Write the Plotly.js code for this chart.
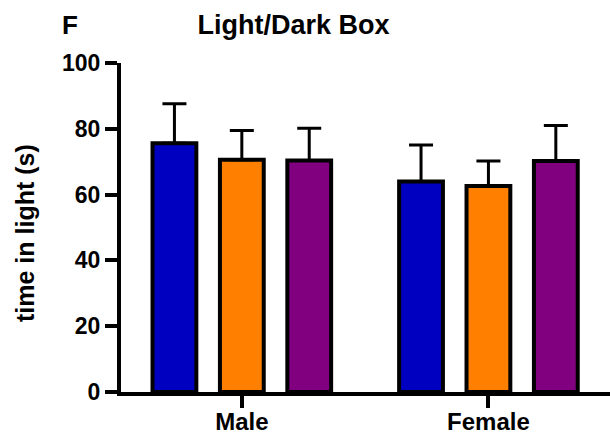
<!DOCTYPE html>
<html>
<head>
<meta charset="utf-8">
<script src="https://cdn.plot.ly/plotly-3.0.1.min.js"></script>
<style>html,body{margin:0;padding:0;background:#fff;}#chart{width:610px;height:436px;}</style>
</head>
<body>
<div id="chart"></div>
<script>
const categories = ["Male", "Female"];
const seriesNames = ["Group 1", "Group 2", "Group 3"];
const seriesColors = ["#0000C0", "#FF8000", "#800080"];
const group1 = [75.6, 64.0];
const group2 = [70.6, 62.6];
const group3 = [70.4, 70.2];
const group1Err = [12.0, 11.1];
const group2Err = [8.9, 7.6];
const group3Err = [9.8, 10.8];
const yTicks = [0, 20, 40, 60, 80, 100];

const values = [group1, group2, group3];
const errs = [group1Err, group2Err, group3Err];
const FONT = "Arial, 'Liberation Sans', sans-serif";

const traces = values.map((v, i) => ({
  type: "bar",
  name: seriesNames[i],
  x: categories,
  y: v,
  marker: { color: seriesColors[i], line: { color: "#000", width: 4 } },
  error_y: { type: "data", symmetric: false, array: errs[i], arrayminus: errs[i].map(() => 0),
             color: "#000", thickness: 3, width: 12 },
  hoverinfo: "skip"
}));

const layout = {
  width: 610, height: 436,
  margin: { l: 121, r: 0, t: 63, b: 44 },
  paper_bgcolor: "#fff", plot_bgcolor: "#fff",
  showlegend: false,
  barmode: "group",
  bargap: 0.18,
  bargroupgap: 0.35,
  font: { family: FONT, color: "#000", weight: "bold" },
  title: { text: "Light/Dark Box", xref: "paper", x: 0.353, y: 1 - 25 / 436, yanchor: "middle", xanchor: "center",
           font: { family: FONT, size: 27, color: "#000", weight: "bold" } },
  xaxis: {
    type: "category", range: [-0.49, 1.493],
    showline: true, linecolor: "#000", linewidth: 4,
    ticks: "outside", ticklen: 12, tickwidth: 4, tickcolor: "#000",
    ticklabelstandoff: -7,
    tickfont: { family: FONT, size: 24, color: "#000", weight: "bold" },
    showgrid: false, zeroline: false, fixedrange: true
  },
  yaxis: {
    range: [0, 100], tickvals: yTicks, ticktext: yTicks.map(String),
    showline: true, linecolor: "#000", linewidth: 4,
    ticks: "outside", ticklen: 12, tickwidth: 4, tickcolor: "#000",
    tickfont: { family: FONT, size: 23, color: "#000", weight: "bold" },
    showgrid: false, zeroline: false, fixedrange: true,
    title: { text: "" }
  },
  annotations: [
    { text: "F", xref: "paper", yref: "paper", x: -0.104, y: 1 + (63 - 25) / 329, xanchor: "center", yanchor: "middle",
      showarrow: false, font: { family: FONT, size: 26, color: "#000", weight: "bold" } },
    { text: "time in light (s)", xref: "paper", yref: "paper", x: (25 - 121) / 489, y: 1 - (233 - 63) / 329,
      xanchor: "center", yanchor: "middle", textangle: -90,
      showarrow: false, font: { family: FONT, size: 25, color: "#000", weight: "bold" } }
  ]
};

Plotly.newPlot("chart", traces, layout, { displayModeBar: false, staticPlot: true });
</script>
</body>
</html>
